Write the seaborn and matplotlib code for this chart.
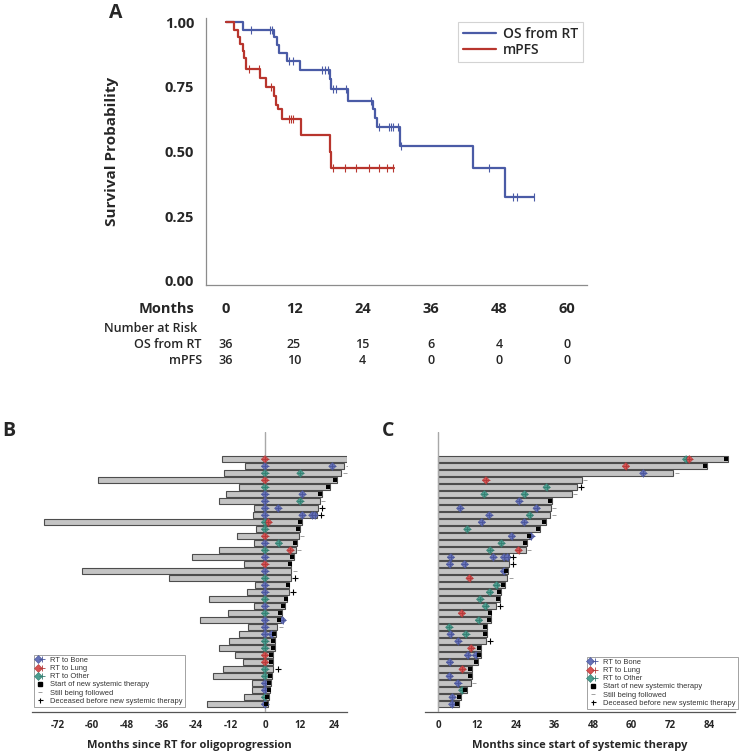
import matplotlib
matplotlib.use("Agg")
import matplotlib.pyplot as plt
import matplotlib.transforms as mtransforms
from matplotlib.lines import Line2D
from matplotlib.legend_handler import HandlerTuple
import numpy as np
import pandas as pd
import seaborn as sns

# ---------------- Panel A: Kaplan-Meier data ----------------
os_time = [0, 3.1, 8.5, 9.0, 9.4, 10.7, 13.1, 18.3, 18.5, 21.4, 25.9, 26.2, 26.5, 30.6, 43.4, 49.1, 54.2]
os_surv = [1.0, 0.972, 0.942, 0.913, 0.883, 0.850, 0.816, 0.780, 0.741, 0.697, 0.663, 0.630, 0.597, 0.522, 0.435, 0.323, 0.323]
os_cens_time = [4.4, 7.7, 8.2, 11.2, 11.8, 17.0, 17.5, 18.0, 18.9, 19.4, 21.1, 25.5, 27.0, 28.6, 29.0, 29.4, 30.3, 30.8, 46.2, 50.5, 51.1, 54.1]
os_cens_surv = [0.972, 0.972, 0.972, 0.850, 0.850, 0.816, 0.816, 0.816, 0.741, 0.741, 0.741, 0.697, 0.597, 0.597, 0.597, 0.597, 0.597, 0.522, 0.435, 0.323, 0.323, 0.323]

pfs_time = [0, 1.5, 2.1, 2.5, 3.0, 3.3, 3.6, 6.0, 7.0, 8.4, 8.8, 9.1, 9.9, 13.2, 18.3, 18.5, 29.6]
pfs_surv = [1.0, 0.972, 0.944, 0.917, 0.889, 0.861, 0.818, 0.784, 0.750, 0.716, 0.682, 0.664, 0.627, 0.564, 0.500, 0.436, 0.436]
pfs_cens_time = [4.1, 5.9, 7.9, 11.1, 11.4, 11.9, 18.8, 21.0, 22.8, 25.2, 27.0, 28.4, 29.4]
pfs_cens_surv = [0.818, 0.818, 0.750, 0.627, 0.627, 0.627, 0.436, 0.436, 0.436, 0.436, 0.436, 0.436, 0.436]

risk_months = [0, 12, 24, 36, 48, 60]
risk_os = [36, 25, 15, 6, 4, 0]
risk_pfs = [36, 10, 4, 0, 0, 0]
y_ticks_a = [0.0, 0.25, 0.5, 0.75, 1.0]

# ---------------- Panel B: swimmer relative to RT ----------------
b_left = [-14.8, -6.9, -14.4, -58.0, -9.0, -13.5, -15.9, -3.7, -4.0, -76.7, -3.2, -9.8, -3.7, -16.0, -25.2, -7.2,
          -63.4, -33.5, -3.6, -6.1, -19.6, -3.7, -12.9, -22.7, -5.8, -9.0, -12.5, -15.9, -10.3, -7.5, -14.6, -18.1,
          -4.5, -4.4, -7.4, -20.2]
b_right = [28.3, 27.4, 26.5, 25.0, 22.4, 19.9, 19.0, 18.5, 18.1, 12.9, 12.2, 11.7, 11.2, 10.7, 9.9, 9.2,
           9.1, 9.0, 8.5, 8.4, 7.8, 6.9, 5.8, 5.6, 4.3, 3.9, 3.5, 3.3, 2.9, 2.9, 2.9, 2.4, 2.1, 1.9, 1.3, 1.1]
b_outcome = ['F', 'F', 'F', 'S', 'S', 'S', 'F', 'D', 'D', 'S', 'S', 'F', 'S', 'F', 'S', 'S',
             'F', 'D', 'S', 'D', 'S', 'S', 'S', 'S', 'F', 'S', 'S', 'S', 'S', 'S', 'D', 'S', 'S', 'S', 'S', 'S']
b_rt_row = list(range(36)) + [1, 2, 5, 6, 7, 8, 8, 8, 9, 12, 13, 23, 25]
b_rt_month = [0.0] * 36 + [23.4, 12.3, 13.0, 12.2, 4.6, 13.0, 16.4, 17.3, 1.2, 4.8, 8.8, 6.1, 2.3]
b_rt_site = ['Lung', 'Bone', 'Other', 'Lung', 'Other', 'Bone', 'Bone', 'Bone', 'Bone', 'Other', 'Other', 'Lung',
             'Bone', 'Other', 'Bone', 'Lung', 'Bone', 'Other', 'Bone', 'Bone', 'Other', 'Bone', 'Other', 'Bone',
             'Bone', 'Bone', 'Other', 'Other', 'Lung', 'Lung', 'Other', 'Other', 'Bone', 'Bone', 'Other', 'Bone',
             'Bone', 'Other', 'Bone', 'Other', 'Bone', 'Bone', 'Bone', 'Bone', 'Lung', 'Other', 'Lung', 'Bone', 'Bone']
b_ticks = [-72, -60, -48, -36, -24, -12, 0, 12, 24]

# ---------------- Panel C: swimmer from start of systemic therapy ----------------
c_end = [90.0, 83.5, 72.9, 44.5, 42.9, 41.4, 35.4, 34.9, 34.7, 33.5, 31.5, 28.7, 27.6, 27.1, 22.0, 22.0,
         21.6, 21.4, 20.6, 19.3, 19.0, 17.8, 16.5, 16.3, 15.2, 15.0, 14.8, 13.3, 13.1, 12.3, 10.5, 10.4,
         10.0, 8.8, 6.9, 6.5]
c_outcome = ['S', 'S', 'F', 'F', 'D', 'F', 'S', 'F', 'F', 'S', 'S', 'S', 'S', 'F', 'D', 'D',
             'S', 'F', 'S', 'S', 'S', 'D', 'S', 'S', 'S', 'S', 'D', 'S', 'S', 'S', 'S', 'S', 'F', 'S', 'S', 'S']
c_rt_row = [0, 0, 1, 2, 3, 4, 5, 5, 6, 7, 7, 8, 8, 9, 9, 10, 11, 11, 12, 13, 13, 14, 14, 14, 14, 15, 15, 16, 17,
            18, 19, 20, 21, 22, 23, 24, 25, 25, 26, 27, 28, 28, 29, 30, 31, 32, 33, 34, 35]
c_rt_month = [76.9, 77.9, 58.2, 63.6, 14.8, 33.6, 14.3, 26.8, 25.1, 6.8, 30.5, 15.8, 28.4, 13.5, 26.7, 9.0,
              22.8, 28.8, 19.6, 16.1, 24.9, 3.9, 17.1, 20.4, 21.5, 3.6, 8.2, 20.4, 9.7, 18.1, 16.0, 13.0, 14.7,
              7.3, 12.6, 3.4, 3.8, 8.6, 6.2, 10.2, 9.2, 11.7, 3.6, 7.5, 3.5, 6.1, 7.4, 4.4, 4.3]
c_rt_site = ['Other', 'Lung', 'Lung', 'Bone', 'Lung', 'Other', 'Other', 'Other', 'Bone', 'Bone', 'Bone', 'Bone',
             'Other', 'Bone', 'Bone', 'Other', 'Bone', 'Bone', 'Other', 'Other', 'Lung', 'Bone', 'Bone', 'Bone',
             'Bone', 'Bone', 'Bone', 'Bone', 'Lung', 'Other', 'Other', 'Other', 'Other', 'Lung', 'Other', 'Other',
             'Bone', 'Other', 'Bone', 'Lung', 'Bone', 'Bone', 'Bone', 'Lung', 'Bone', 'Bone', 'Other', 'Bone', 'Bone']
c_ticks = [0, 12, 24, 36, 48, 60, 72, 84]

# ---------------- style ----------------
sns.set_style("white")
plt.rcParams['font.family'] = ['Open Sans', 'DejaVu Sans']

OS_COLOR = '#4a5ba6'
PFS_COLOR = '#b8352d'
SITES = ['Bone', 'Lung', 'Other']
SITE_COLORS = {'Bone': '#6672b8', 'Lung': '#d65252', 'Other': '#4c9e90'}
SITE_DARK = {'Bone': '#4a559a', 'Lung': '#b23a3a', 'Other': '#357d70'}
BAR_FILL = '#c4c4c4'
BAR_EDGE = '#4d4d4d'
AX_GRAY = '#8c8c8c'

W, H = 744, 751
fig = plt.figure(figsize=(W / 100, H / 100), dpi=100)


def fx(px):
    return px / W


def fy(py):
    return 1 - py / H


# ================= Panel A =================
axA = fig.add_axes([fx(206), fy(285), fx(586.7 - 206), (285 - 18) / H])
sns.lineplot(x=os_time, y=os_surv, drawstyle='steps-post', estimator=None, sort=False,
             color=OS_COLOR, linewidth=1.6, ax=axA, legend=False)
sns.lineplot(x=pfs_time, y=pfs_surv, drawstyle='steps-post', estimator=None, sort=False,
             color=PFS_COLOR, linewidth=1.6, ax=axA, legend=False)
sns.scatterplot(x=os_cens_time, y=os_cens_surv, marker='|', s=28, linewidth=0.8, color=OS_COLOR, ax=axA, zorder=4)
sns.scatterplot(x=pfs_cens_time, y=pfs_cens_surv, marker='|', s=28, linewidth=0.8, color=PFS_COLOR, ax=axA, zorder=4)
axA.set_xlim(-3.46, 63.4)
axA.set_ylim(-0.0155, 1.0166)
axA.set_xticks(risk_months)
axA.set_xticklabels([str(m) for m in risk_months], fontsize=10.5, fontweight='bold')
axA.set_yticks(y_ticks_a)
axA.set_yticklabels([f"{v:.2f}" for v in y_ticks_a], fontsize=10.5, fontweight='bold')
axA.tick_params(axis='x', direction='out', length=5, width=0.8, color=AX_GRAY, pad=7)
axA.tick_params(axis='y', direction='out', length=4.5, width=0.8, color=AX_GRAY, pad=4)
for s in ['top', 'right']:
    axA.spines[s].set_visible(False)
for s in ['left', 'bottom']:
    axA.spines[s].set_color(AX_GRAY)
    axA.spines[s].set_linewidth(0.9)
axA.set_xlabel('')
axA.set_ylabel('Survival Probability', fontsize=11, fontweight='bold')
axA.yaxis.set_label_coords(-0.2285, 0.5)

legA = axA.legend(handles=[Line2D([], [], color=OS_COLOR, lw=1.6), Line2D([], [], color=PFS_COLOR, lw=1.6)],
                  labels=['OS from RT', 'mPFS'], loc='upper right',
                  bbox_to_anchor=(fx(583), fy(22)), bbox_transform=fig.transFigure,
                  prop={'size': 10, 'weight': 'semibold'}, frameon=True, fancybox=False, handlelength=2.4,
                  handletextpad=0.5, borderpad=0.35, labelspacing=0.15, borderaxespad=0)
legA.get_frame().set_edgecolor('#c8c8c8')
legA.get_frame().set_linewidth(0.8)

# Number at risk table
tr = mtransforms.blended_transform_factory(axA.transData, fig.transFigure)
fig.text(fx(194), fy(309), 'Months', ha='right', va='center', fontsize=10.5, fontweight='bold')
fig.text(fx(104), fy(328), 'Number at Risk', ha='left', va='center', fontsize=9, fontweight='semibold')
fig.text(fx(202), fy(344), 'OS from RT', ha='right', va='center', fontsize=9, fontweight='semibold')
fig.text(fx(202), fy(361), 'mPFS', ha='right', va='center', fontsize=9, fontweight='semibold')
for m, a, b in zip(risk_months, risk_os, risk_pfs):
    axA.text(m, fy(344), str(a), transform=tr, ha='center', va='center', fontsize=9, fontweight='semibold')
    axA.text(m, fy(361), str(b), transform=tr, ha='center', va='center', fontsize=9, fontweight='semibold')

fig.text(fx(116), fy(13), 'A', ha='center', va='center', fontsize=14, fontweight='bold')
fig.text(fx(9), fy(431), 'B', ha='center', va='center', fontsize=14, fontweight='bold')
fig.text(fx(388), fy(431), 'C', ha='center', va='center', fontsize=14, fontweight='bold')


# ================= Swimmer helper =================
def swimmer(ax, right, outcome, rt_row, rt_month, rt_site, left=None):
    n = len(right)
    rows = list(range(n))
    bar_kw = dict(orient='h', native_scale=True, color=BAR_FILL, saturation=1, edgecolor=BAR_EDGE,
                  linewidth=0.8, width=0.9, errorbar=None, ax=ax, zorder=2)
    sns.barplot(x=right, y=rows, **bar_kw)
    if left is not None:
        sns.barplot(x=left, y=rows, **bar_kw)
    ax.axvline(0, color='#a8a8a8', lw=1.0, zorder=3)
    mk = pd.DataFrame({'x': rt_month, 'row': rt_row, 'site': rt_site})
    sns.scatterplot(data=mk, x='x', y='row', hue='site', hue_order=SITES, palette=SITE_COLORS,
                    marker='D', s=14, edgecolor=[SITE_DARK[s] for s in rt_site], linewidth=0.4,
                    legend=False, ax=ax, zorder=5)
    sns.scatterplot(data=mk, x='x', y='row', hue='site', hue_order=SITES, palette=SITE_DARK,
                    marker='+', s=26, linewidth=0.6, legend=False, ax=ax, zorder=6)

    def off(dx):
        return ax.transData + mtransforms.ScaledTranslation(dx / 72, 0, fig.dpi_scale_trans)

    sx = [right[i] for i in range(n) if outcome[i] == 'S']
    sy = [i for i in range(n) if outcome[i] == 'S']
    fxv = [right[i] for i in range(n) if outcome[i] == 'F']
    fyv = [i for i in range(n) if outcome[i] == 'F']
    dxv = [right[i] for i in range(n) if outcome[i] == 'D']
    dyv = [i for i in range(n) if outcome[i] == 'D']
    ax.scatter(sx, sy, marker='s', s=7.5, color='black', linewidths=0, transform=off(-1.4), zorder=7)
    ax.scatter(fxv, fyv, marker='_', s=5, color='#a0a0a0', linewidths=0.7, transform=off(2.6), zorder=7)
    ax.scatter(dxv, dyv, marker='+', s=14, color='black', linewidths=0.8, transform=off(3.0), zorder=7)

    ax.set_ylim(n + 0.1, -3.9)
    ax.set_yticks([])
    ax.set_ylabel('')
    for s in ['top', 'right', 'left']:
        ax.spines[s].set_visible(False)
    ax.spines['bottom'].set_color('#555555')
    ax.spines['bottom'].set_linewidth(0.9)
    ax.tick_params(axis='x', direction='out', length=3, width=0.8, color='#555555', pad=3)


def swim_legend(ax, anchor, loc):
    handles = []
    for s in SITES:
        handles.append((Line2D([], [], ls='', marker='D', ms=3.6, mfc=SITE_COLORS[s], mec=SITE_DARK[s], mew=0.4),
                        Line2D([], [], ls='', marker='+', ms=5, mec=SITE_DARK[s], mew=0.6)))
    handles.append(Line2D([], [], ls='', marker='s', ms=2.6, mfc='black', mec='black'))
    handles.append(Line2D([], [], ls='', marker='_', ms=2.4, mec='#a0a0a0', mew=0.7))
    handles.append(Line2D([], [], ls='', marker='+', ms=3.6, mec='black', mew=0.8))
    labels = ['RT to Bone', 'RT to Lung', 'RT to Other', 'Start of new systemic therapy',
              'Still being followed', 'Deceased before new systemic therapy']
    leg = ax.legend(handles=handles, labels=labels, loc=loc, bbox_to_anchor=anchor,
                    bbox_transform=fig.transFigure, prop={'family': 'Liberation Sans', 'size': 5.4},
                    handler_map={tuple: HandlerTuple(ndivide=None)}, frameon=True, fancybox=False,
                    handlelength=1.0, handletextpad=0.9, borderpad=0.3, labelspacing=0.12, borderaxespad=0)
    leg.get_frame().set_edgecolor('#8a8a8a')
    leg.get_frame().set_linewidth(0.7)
    for t in leg.get_texts():
        t.set_color('#333333')


# ================= Panel B =================
b_px = 2.88
b_xmin, b_xmax = -80.9, 28.4
axB = fig.add_axes([fx(265 + b_xmin * b_px), fy(712), fx((b_xmax - b_xmin) * b_px), (712 - 432) / H])
swimmer(axB, b_right, b_outcome, b_rt_row, b_rt_month, b_rt_site, left=b_left)
axB.set_xlim(b_xmin, b_xmax)
axB.set_xticks(b_ticks)
axB.set_xticklabels([str(t) for t in b_ticks], fontsize=7, fontweight='bold')
axB.set_xlabel('Months since RT for oligoprogression', fontsize=8, fontweight='bold', labelpad=6)
swim_legend(axB, (fx(34), fy(707)), 'lower left')

# ================= Panel C =================
c_px = 3.223
c_xmin, c_xmax = -4.13, 92.0
axC = fig.add_axes([fx(438.3 + c_xmin * c_px), fy(712), fx((c_xmax - c_xmin) * c_px), (712 - 432) / H])
swimmer(axC, c_end, c_outcome, c_rt_row, c_rt_month, c_rt_site)
axC.set_xlim(c_xmin, c_xmax)
axC.set_xticks(c_ticks)
axC.set_xticklabels([str(t) for t in c_ticks], fontsize=7, fontweight='bold')
axC.set_xlabel('Months since start of systemic therapy', fontsize=8, fontweight='bold', labelpad=6)
swim_legend(axC, (fx(738), fy(709)), 'lower right')

fig.savefig('out.png', dpi=100)
